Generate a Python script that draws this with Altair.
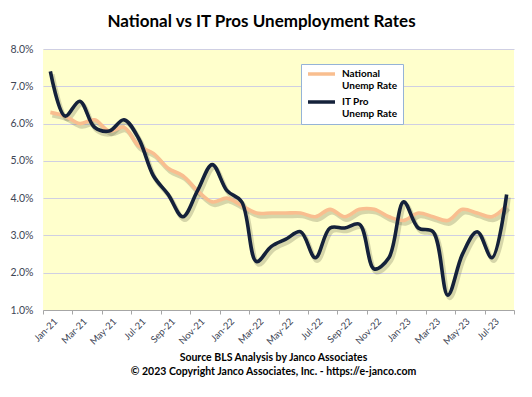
import altair as alt
import pandas as pd

months = ["Jan-21","Feb-21","Mar-21","Apr-21","May-21","Jun-21","Jul-21","Aug-21",
          "Sep-21","Oct-21","Nov-21","Dec-21","Jan-22","Feb-22","Mar-22","Apr-22",
          "May-22","Jun-22","Jul-22","Aug-22","Sep-22","Oct-22","Nov-22","Dec-22",
          "Jan-23","Feb-23","Mar-23","Apr-23","May-23","Jun-23","Jul-23","Aug-23"]
national = [6.3, 6.2, 6.0, 6.1, 5.8, 5.9, 5.4, 5.2, 4.8, 4.6, 4.2, 3.9,
            4.0, 3.8, 3.6, 3.6, 3.6, 3.6, 3.5, 3.7, 3.5, 3.7, 3.7, 3.5,
            3.4, 3.6, 3.5, 3.4, 3.7, 3.6, 3.5, 3.8]
it_pro = [7.4, 6.2, 6.6, 5.9, 5.8, 6.1, 5.6, 4.6, 4.1, 3.5, 4.2, 4.9,
          4.2, 3.9, 2.3, 2.7, 2.9, 3.1, 2.4, 3.2, 3.2, 3.3, 2.1, 2.4,
          3.9, 3.2, 3.1, 1.4, 2.5, 3.1, 2.4, 4.1]
series_names = ["National|Unemp Rate", "IT Pro|Unemp Rate"]
series_colors = ["#F9BE8F", "#14213A"]
y_ticks = [1, 2, 3, 4, 5, 6, 7, 8]

rows = []
for i, m in enumerate(months):
    rows.append({"idx": i, "month": m, "series": series_names[0], "rate": national[i]})
for i, m in enumerate(months):
    rows.append({"idx": i, "month": m, "series": series_names[1], "rate": it_pro[i]})
df = pd.DataFrame(rows)

n = len(months)
boundaries = [k - 0.5 for k in range(0, n + 1, 2)]
month_js = "[" + ",".join("'" + m + "'" for m in months) + "]"

font = "Lato"
lab_col = "#3E4656"

x_enc = alt.X("idx:Q",
              scale=alt.Scale(domain=[-0.5, n - 0.5], nice=False, zero=False),
              axis=alt.Axis(values=boundaries,
                            labelExpr=month_js + "[round(datum.value + 0.5)] || ''",
                            labelAngle=-45, labelAlign="right", labelBaseline="top",
                            labelOffset=9, labelPadding=2, labelOverlap=False,
                            labelFont=font, labelFontSize=9.5, labelColor=lab_col,
                            tickColor="#A6A6A6", tickSize=4, domainColor="#A6A6A6",
                            grid=False,
                            title=["Source BLS Analysis by Janco Associates",
                                   "\u00a9 2023 Copyright Janco Associates, Inc. - https://e-janco.com"],
                            titleFont=font, titleFontSize=10.5, titleFontWeight="bold",
                            titleColor="#000000", titleX=230, titleY=42,
                            titleBaseline="top", titleAlign="center", titleLineHeight=14))
y_enc = alt.Y("rate:Q",
              scale=alt.Scale(domain=[1, 8], nice=False, zero=False),
              axis=alt.Axis(values=y_ticks,
                            labelExpr="format(datum.value, '.1f') + '%'",
                            labelFont=font, labelFontSize=10.5, labelColor=lab_col,
                            labelPadding=10,
                            ticks=False, domain=False,
                            gridColor="#CFCFE3", gridWidth=1.2, title=None))

shadow = alt.Chart(df).mark_line(
    interpolate="catmull-rom", strokeWidth=4.5, color="#6b6b50", opacity=0.28,
    xOffset=2, yOffset=3
).encode(x=x_enc, y=y_enc, detail="series:N")

lines = alt.Chart(df).mark_line(interpolate="catmull-rom", strokeWidth=3.6).encode(
    x=x_enc, y=y_enc,
    color=alt.Color("series:N",
                    scale=alt.Scale(domain=series_names, range=series_colors),
                    sort=series_names,
                    legend=alt.Legend(orient="none", legendX=258, legendY=15,
                                      title=None,
                                      labelExpr="split(datum.label, '|')",
                                      labelFont=font, labelFontSize=10,
                                      labelFontWeight="bold", labelColor="#000000",
                                      labelBaseline="middle", labelOffset=26,
                                      symbolType="M-1,0L8,0",
                                      symbolSize=36, symbolStrokeWidth=3.5,
                                      symbolFillColor="transparent",
                                      rowPadding=4,
                                      fillColor="white", strokeColor="#95B3D7",
                                      padding=5)),
    order="idx:Q"
)

chart = alt.layer(shadow, lines).properties(
    width=471, height=261,
    autosize=alt.AutoSizeParams(type="none"),
    padding={"left": 35, "top": 41, "right": 10, "bottom": 79},
    background="white",
    title=alt.TitleParams("National vs IT Pros Unemployment Rates",
                          font=font, fontSize=17, fontWeight="bold",
                          color="#000000", anchor="middle", dx=-17, offset=13)
).configure_view(fill="#FFFFCC", stroke=None)

chart.save("out.html", embed_options={"renderer": "svg", "actions": False})
